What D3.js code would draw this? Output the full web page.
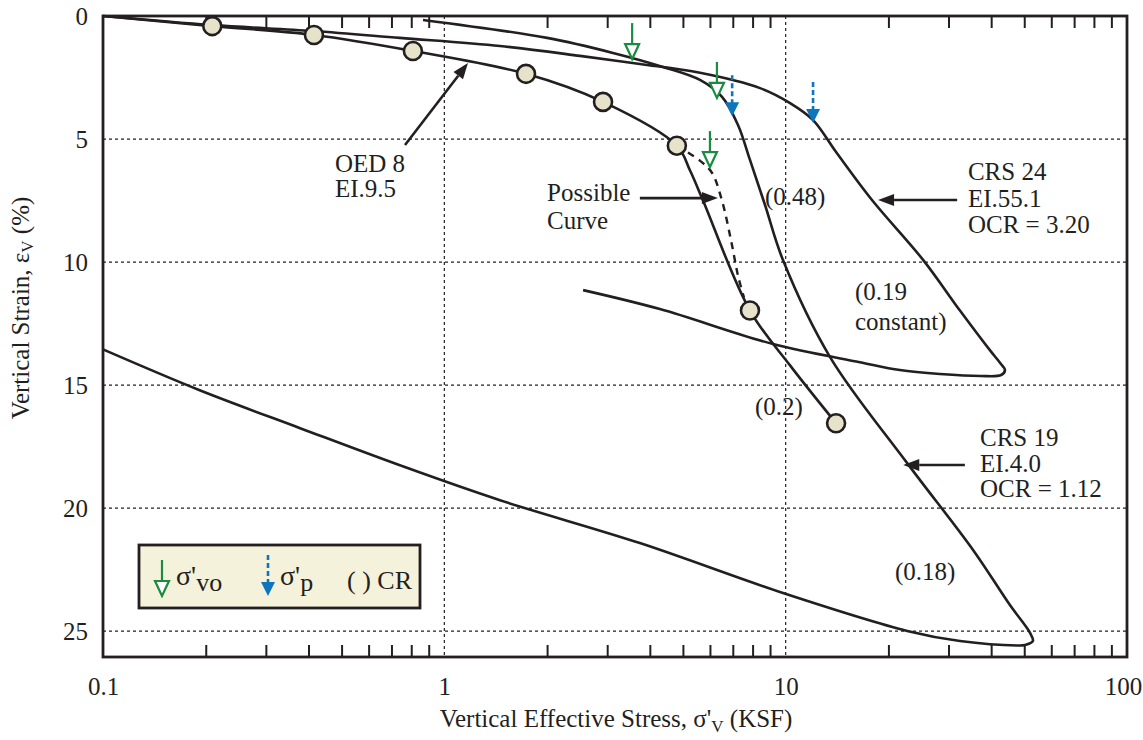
<!DOCTYPE html>
<html>
<head>
<meta charset="utf-8">
<script src="https://cdn.jsdelivr.net/npm/d3@7"></script>
</head>
<body style="margin:0; background:#fff">
<div id="viz"></div>
<script>
// stress (ksf), strain (%)
const oedPoints = [[0.209, 0.41], [0.415, 0.77], [0.809, 1.42], [1.735, 2.35], [2.917, 3.49], [4.80, 5.27], [7.86, 11.97], [14.05, 16.55]];
const oedLine = [[0.1, 0], [0.209, 0.41], [0.415, 0.77], [0.809, 1.42], [1.735, 2.35], [2.917, 3.49], [4.80, 5.27],
  [5.25, 6.29], [5.73, 7.51], [7.86, 11.97], [10.3, 14.2], [14.05, 16.55]];
const oedPossible = [[4.80, 5.27], [5.61, 5.88], [6.08, 6.37], [6.51, 7.51], [6.92, 9.13], [7.25, 10.55], [7.55, 11.44]];
const crs24 = [[0.1, 0], [0.21, 0.37], [0.412, 0.61], [0.741, 0.89], [1.456, 1.22], [2.497, 1.62], [3.74, 1.95],
  [5.61, 2.31], [8.41, 2.93], [10.3, 3.54], [12.03, 4.23], [14.05, 5.53], [17.9, 7.48], [25.3, 9.92], [32.4, 11.97],
  [39.7, 13.59], [42.5, 14.10], [43.9, 14.39], [42.8, 14.59], [37.2, 14.63], [28.3, 14.55], [21.6, 14.39], [16.5, 14.07],
  [9.18, 13.33], [4.28, 11.91], [2.55, 11.14]];
const crs19 = [[0.866, 0.16], [2.0, 0.89], [3.12, 1.50], [4.37, 2.07], [5.61, 2.60], [6.51, 3.29], [7.25, 4.43],
  [7.86, 5.85], [8.70, 7.68], [9.82, 9.92], [13.49, 13.86], [22.7, 18.17], [35.4, 21.70], [45.4, 23.94], [52.0, 25.07],
  [53.0, 25.40], [50.3, 25.56], [47.6, 25.58], [32.4, 25.40], [22.7, 24.99], [9.82, 23.45], [3.74, 21.42], [1.456, 19.68],
  [0.741, 18.26], [0.378, 16.75], [0.192, 15.21], [0.1, 13.55]];
const sigmaVo = [[3.55, 1.75], [6.29, 3.33], [6.00, 6.14]];
const sigmaP = [[6.97, 4.07], [12.03, 4.35]];
const xTickLabels = [0.1, 1, 10, 100];
const yTickLabels = [0, 5, 10, 15, 20, 25];
const minorTicks = [0.2, 0.3, 0.4, 0.5, 0.6, 0.7, 0.8, 0.9, 2, 3, 4, 5, 6, 7, 8, 9, 20, 30, 40, 50, 60, 70, 80, 90];
const xGrid = [1, 10];
const yGrid = [5, 10, 15, 20, 25];
const notes = [
  { at: [0.478, 6.34], lines: ["OED 8", "EI.9.5"], lh: 25 },
  { at: [2.0, 7.52], lines: ["Possible", "Curve"], lh: 28 },
  { at: [8.70, 7.68], lines: ["(0.48)"], lh: 26 },
  { at: [34.2, 6.67], lines: ["CRS 24", "EI.55.1", "OCR = 3.20"], lh: 26.5 },
  { at: [15.96, 11.54], lines: ["(0.19", "constant)"], lh: 30 },
  { at: [8.13, 16.22], lines: ["(0.2)"], lh: 26 },
  { at: [37.1, 17.48], lines: ["CRS 19", "EI.4.0", "OCR = 1.12"], lh: 25.5 },
  { at: [20.9, 22.93], lines: ["(0.18)"], lh: 26 }
];
const pointers = [
  [[0.767, 5.24], [1.173, 1.91]],
  [[3.74, 7.40], [6.33, 7.40]],
  [[31.8, 7.48], [18.65, 7.48]],
  [[33.5, 18.25], [22.1, 18.25]]
];

const width = 1143, height = 740;
const ink = "#231f20", green = "#1a8c3f", blue = "#0e74bc";
const font = "Liberation Serif";

const svg = d3.select("#viz").append("svg")
  .attr("width", width).attr("height", height);

const x = d3.scaleLog().domain([0.1, 100]).range([103, 1127]);
const y = d3.scaleLinear().domain([0, 26.05]).range([16, 657]);

// d3 axes put font attributes on their groups; drop them
const clean = g => {
  g.select(".domain").remove();
  g.attr("font-family", null).attr("font-size", null).attr("fill", null);
};

// grid
svg.append("g").selectAll("line").data(yGrid).enter().append("line")
  .attr("x1", x(0.1)).attr("x2", x(100)).attr("y1", d => y(d)).attr("y2", d => y(d))
  .attr("stroke", ink).attr("stroke-width", 1.2).attr("stroke-dasharray", "3,3");
svg.append("g").selectAll("line").data(xGrid).enter().append("line")
  .attr("x1", d => x(d)).attr("x2", d => x(d)).attr("y1", y(0)).attr("y2", y(26.05))
  .attr("stroke", ink).attr("stroke-width", 1.2).attr("stroke-dasharray", "3,3");

// minor ticks top and bottom
const tickStyle = g => {
  clean(g);
  g.selectAll("text").remove();
  g.selectAll(".tick line").attr("stroke", ink).attr("stroke-width", 2);
};
svg.append("g").attr("transform", `translate(0,${y(26.05)})`)
  .call(d3.axisBottom(x).tickValues(minorTicks).tickSize(-12).tickFormat(""))
  .call(tickStyle);
svg.append("g").attr("transform", `translate(0,${y(0)})`)
  .call(d3.axisTop(x).tickValues(minorTicks).tickSize(-12).tickFormat(""))
  .call(tickStyle);

// tick labels
const xl = svg.append("g").attr("transform", `translate(0,${y(26.05)})`)
  .call(d3.axisBottom(x).tickValues(xTickLabels).tickFormat(d3.format("~g")).tickSize(0).tickPadding(20))
  .call(clean);
xl.selectAll("text").attr("font-size", 25).attr("dx", d => d === 100 ? -4 : 0);

const yl = svg.append("g").attr("transform", `translate(${x(0.1)},0)`)
  .call(d3.axisLeft(y).tickValues(yTickLabels).tickSize(0).tickPadding(15))
  .call(clean);
yl.selectAll("text").attr("font-size", 25);

// curves
const line = d3.line().x(d => x(d[0])).y(d => y(d[1])).curve(d3.curveCatmullRom.alpha(0.5));
[crs24, crs19, oedLine].forEach(c => {
  svg.append("path").attr("d", line(c)).attr("fill", "none")
    .attr("stroke", ink).attr("stroke-width", 2.6);
});
svg.append("path").attr("d", line(oedPossible)).attr("fill", "none")
  .attr("stroke", ink).attr("stroke-width", 2.4).attr("stroke-dasharray", "7,6");

svg.append("g").selectAll("circle").data(oedPoints).enter().append("circle")
  .attr("cx", d => x(d[0])).attr("cy", d => y(d[1])).attr("r", 9)
  .attr("fill", "#e7e3cb").attr("stroke", ink).attr("stroke-width", 2.6);

// frame
svg.append("rect").attr("x", x(0.1)).attr("y", y(0))
  .attr("width", x(100) - x(0.1)).attr("height", y(26.05) - y(0))
  .attr("fill", "none").attr("stroke", ink).attr("stroke-width", 2.8);

// stress markers
function greenArrow(g, tx, ty) {
  g.append("line").attr("x1", tx).attr("x2", tx).attr("y1", ty - 36).attr("y2", ty - 14)
    .attr("stroke", green).attr("stroke-width", 2.2);
  g.append("path").attr("d", `M${tx - 7},${ty - 15} L${tx + 7},${ty - 15} L${tx},${ty} Z`)
    .attr("fill", "#fff").attr("stroke", green).attr("stroke-width", 2.2);
}
function blueArrow(g, tx, ty) {
  g.append("line").attr("x1", tx).attr("x2", tx).attr("y1", ty - 41).attr("y2", ty - 13)
    .attr("stroke", blue).attr("stroke-width", 2.6).attr("stroke-dasharray", "5,3");
  g.append("path").attr("d", `M${tx - 7},${ty - 14} L${tx + 7},${ty - 14} L${tx},${ty} Z`)
    .attr("fill", blue);
}
const marks = svg.append("g");
sigmaVo.forEach(d => greenArrow(marks, x(d[0]), y(d[1])));
sigmaP.forEach(d => blueArrow(marks, x(d[0]), y(d[1])));

// annotations
notes.forEach(n => {
  const t = svg.append("text").attr("x", x(n.at[0])).attr("y", y(n.at[1])).attr("font-size", 25);
  n.lines.forEach((s, i) => t.append("tspan").attr("x", x(n.at[0])).attr("dy", i ? n.lh : 0).text(s));
});
pointers.forEach(p => {
  const x1 = x(p[0][0]), y1 = y(p[0][1]), x2 = x(p[1][0]), y2 = y(p[1][1]);
  const a = Math.atan2(y2 - y1, x2 - x1), L = 16, W = 6;
  const bx = x2 - L * Math.cos(a), by = y2 - L * Math.sin(a);
  svg.append("line").attr("x1", x1).attr("y1", y1).attr("x2", bx).attr("y2", by)
    .attr("stroke", ink).attr("stroke-width", 2.6);
  svg.append("path")
    .attr("d", `M${x2},${y2} L${bx - W * Math.sin(a)},${by + W * Math.cos(a)} L${bx + W * Math.sin(a)},${by - W * Math.cos(a)} Z`)
    .attr("fill", ink);
});

// legend
const lg = svg.append("g").attr("transform", "translate(139,545)");
lg.append("rect").attr("width", 281).attr("height", 63)
  .attr("fill", "#f4f2db").attr("stroke", ink).attr("stroke-width", 2.8);
greenArrow(lg, 23, 51);
lg.append("text").attr("x", 37).attr("y", 40).attr("font-size", 28)
  .call(t => { t.append("tspan").text("σ'"); t.append("tspan").attr("dy", 6).attr("font-size", 26).text("vo"); });
blueArrow(lg, 129, 51);
lg.append("text").attr("x", 141).attr("y", 40).attr("font-size", 28)
  .call(t => { t.append("tspan").text("σ'"); t.append("tspan").attr("dy", 6).attr("font-size", 26).text("p"); });
lg.append("text").attr("x", 208).attr("y", 44).attr("font-size", 26).text("( ) CR");

// axis titles
svg.append("text").attr("x", 616).attr("y", 727).attr("text-anchor", "middle").attr("font-size", 25)
  .call(t => {
    t.append("tspan").text("Vertical Effective Stress, σ'");
    t.append("tspan").attr("dy", 5).attr("font-size", 17).text("V");
    t.append("tspan").attr("dy", -5).text(" (KSF)");
  });
svg.append("text").attr("transform", "translate(29,308) rotate(-90)").attr("text-anchor", "middle").attr("font-size", 25)
  .call(t => {
    t.append("tspan").text("Vertical Strain, ε");
    t.append("tspan").attr("dy", 4).attr("font-size", 17).text("V");
    t.append("tspan").attr("dy", -4).text(" (%)");
  });

svg.selectAll("text, tspan").attr("font-family", font).attr("fill", ink);
</script>
</body>
</html>
